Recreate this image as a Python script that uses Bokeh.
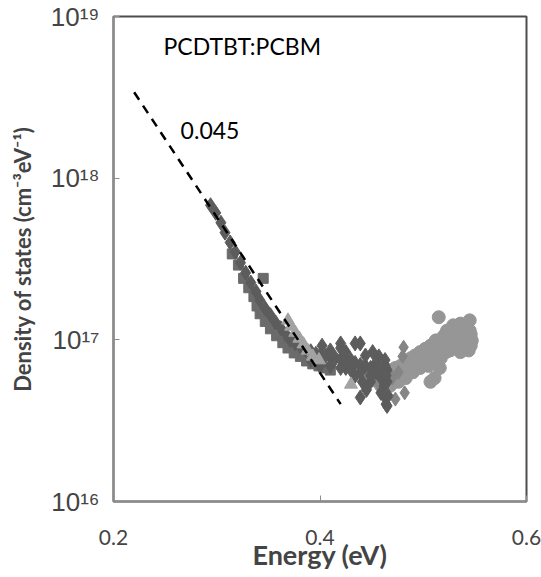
from bokeh.plotting import figure
from bokeh.models import FixedTicker, CustomJSTickFormatter, Range1d
from bokeh.core.properties import value
from bokeh.embed import file_html
from bokeh.resources import INLINE

# ---- data ----
# dark grey diamonds: steep tail + flat region
e1 = [0.294, 0.299, 0.304, 0.308, 0.313, 0.318, 0.323, 0.328, 0.333, 0.338, 0.342, 0.347,
      0.352, 0.357, 0.362, 0.367, 0.371, 0.376, 0.381, 0.386, 0.391, 0.396, 0.400, 0.405,
      0.410, 0.415, 0.420, 0.425, 0.430, 0.434, 0.439, 0.444, 0.449, 0.454, 0.459, 0.462,
      0.402, 0.410, 0.420, 0.434, 0.439, 0.451, 0.457, 0.425, 0.434, 0.441, 0.445, 0.449,
      0.462, 0.464, 0.459, 0.439, 0.463, 0.465, 0.465, 0.466, 0.465,
      0.391, 0.400, 0.410, 0.420, 0.430, 0.439, 0.449, 0.425, 0.444, 0.454, 0.463, 0.459,
      0.464, 0.420]
n1 = [6.8e17, 6.1e17, 5.3e17, 4.6e17, 4.0e17, 3.5e17, 3.0e17, 2.6e17, 2.26e17, 1.99e17, 1.75e17, 1.56e17,
      1.42e17, 1.28e17, 1.18e17, 1.08e17, 1.0e17, 9.5e16, 9.1e16, 8.7e16, 8.5e16, 8.2e16, 8.0e16, 7.9e16,
      7.8e16, 7.7e16, 7.6e16, 7.5e16, 7.5e16, 7.2e16, 7.0e16, 6.9e16, 6.7e16, 6.3e16, 5.8e16, 5.2e16,
      9.2e16, 8.6e16, 8.9e16, 9.5e16, 9.5e16, 8.4e16, 7.9e16, 6.7e16, 6.0e16, 5.5e16, 4.9e16, 5.5e16,
      4.5e16, 4.0e16, 4.7e16, 4.4e16, 7.5e16, 6.5e16, 5.5e16, 4.5e16, 3.9e16,
      7.5e16, 6.9e16, 6.9e16, 6.7e16, 6.5e16, 6.3e16, 6.0e16, 8.4e16, 8.0e16, 7.2e16, 6.9e16, 6.5e16,
      6.0e16, 9.5e16]

# medium-dark grey squares: parallel band in the tail
e2 = [0.315, 0.321, 0.326, 0.331, 0.336, 0.339, 0.342, 0.345, 0.347, 0.352, 0.358, 0.364,
      0.369, 0.375, 0.381, 0.387, 0.393, 0.399, 0.404, 0.410]
n2 = [3.4e17, 2.9e17, 2.4e17, 2.1e17, 1.85e17, 1.62e17, 1.45e17, 2.4e17, 1.3e17, 1.17e17, 1.06e17, 9.6e16,
      8.9e16, 8.3e16, 7.9e16, 7.4e16, 7.1e16, 6.9e16, 6.7e16, 6.5e16]

# light grey triangles
e3 = [0.369, 0.372, 0.376, 0.380, 0.384, 0.388, 0.393, 0.399, 0.430]
n3 = [1.32e17, 1.21e17, 1.11e17, 1.02e17, 9.4e16, 8.6e16, 7.9e16, 7.5e16, 5.3e16]

# grey circles: rising part
e4 = [0.447, 0.454, 0.461, 0.468, 0.473, 0.478, 0.483, 0.488, 0.492, 0.497, 0.502, 0.507,
      0.510, 0.513, 0.517, 0.520, 0.523, 0.526, 0.529, 0.532, 0.536, 0.539, 0.542, 0.545,
      0.547, 0.544, 0.538, 0.531, 0.526, 0.522, 0.517, 0.512, 0.505, 0.497, 0.490, 0.483,
      0.476, 0.468, 0.515, 0.545, 0.511, 0.507, 0.516, 0.536, 0.470, 0.480, 0.490, 0.500,
      0.510, 0.520, 0.528, 0.535, 0.542, 0.546,
      0.454, 0.463, 0.473, 0.483, 0.492, 0.502, 0.512, 0.522, 0.531, 0.541, 0.536, 0.546,
      0.526, 0.517, 0.507, 0.497, 0.488, 0.478, 0.468, 0.459]
n4 = [5.8e16, 6.3e16, 5.8e16, 6.5e16, 6.0e16, 6.9e16, 6.5e16, 7.7e16, 7.2e16, 8.4e16, 7.9e16, 9.2e16,
      8.6e16, 9.9e16, 9.2e16, 1.06e17, 1.14e17, 1.02e17, 1.23e17, 1.11e17, 1.26e17, 1.14e17, 1.24e17, 1.14e17,
      9.9e16, 8.6e16, 9.2e16, 9.2e16, 8.6e16, 8.4e16, 7.7e16, 7.5e16, 6.9e16, 6.7e16, 6.3e16, 5.8e16,
      5.5e16, 5.2e16, 1.38e17, 1.32e17, 5.8e16, 5.5e16, 6.7e16, 8.4e16, 6.2e16, 6.7e16, 7.3e16, 8.0e16,
      9.0e16, 9.8e16, 1.08e17, 1.1e17, 1.05e17, 1.08e17,
      5.6e16, 6.0e16, 6.7e16, 7.2e16, 8.0e16, 8.8e16, 9.9e16, 1.06e17, 1.14e17, 1.14e17, 9.9e16, 9.2e16,
      9.2e16, 8.4e16, 7.7e16, 7.2e16, 6.7e16, 6.0e16, 5.6e16, 5.2e16]

# medium grey diamonds: transition region
e5 = [0.481, 0.480, 0.473, 0.482, 0.444, 0.451, 0.457, 0.463, 0.470, 0.476]
n5 = [9.0e16, 7.9e16, 4.3e16, 4.7e16, 6.3e16, 5.8e16, 5.3e16, 5.5e16, 5.8e16, 6.3e16]

# exponential tail fit (dashed)
e_fit = [0.22, 0.42]
n_fit = [3.4e18, 4.0e16]

x_ticks = [0.2, 0.4, 0.6]
y_ticks = [1e16, 1e17, 1e18, 1e19]

p = figure(width=541, height=577, y_axis_type="log",
           x_range=Range1d(0.2, 0.6), y_range=Range1d(1e16, 1e19),
           output_backend="svg", toolbar_location=None,
           min_border_left=113, min_border_right=15, min_border_top=16, min_border_bottom=76)
p.background_fill_color = "white"
p.border_fill_color = "white"
p.outline_line_color = "#4d4d4d"
p.outline_line_width = 2
p.xgrid.visible = False
p.ygrid.visible = False

p.scatter(e4, n4, marker="circle", size=13, color="#969696")
p.scatter(e5, n5, marker="diamond", size=14, color="#858585")
p.scatter(e2, n2, marker="square", size=10, color="#6b6b6b")
p.scatter(e1, n1, marker="diamond", size=15, color="#5c5c5c")
p.scatter(e3, n3, marker="triangle", size=13, color="#a3a3a3")

p.line(e_fit, n_fit, line_color="black", line_width=2.5, line_dash="9 7")

p.text(x=[0.2484], y=[6.6e18], text=["PCDTBT:PCBM"], text_font=value("Lato"),
       text_font_size="23px", text_baseline="middle", text_color="black")
p.text(x=[0.265], y=[1.97e18], text=["0.045"], text_font=value("Lato"),
       text_font_size="23px", text_baseline="middle", text_color="black")

# x axis
p.xaxis.ticker = FixedTicker(ticks=x_ticks)
p.xaxis.axis_label = "Energy (eV)"
p.xaxis.axis_label_text_font = "Lato"
p.xaxis.axis_label_text_font_style = "bold"
p.xaxis.axis_label_text_font_size = "27px"
p.xaxis.axis_label_standoff = -10
p.xaxis.major_label_text_font = "Lato"
p.xaxis.major_label_text_font_size = "21px"
p.xaxis.major_label_standoff = 28
p.xaxis.axis_line_color = "#8c8c8c"
p.xaxis.axis_line_width = 2
p.xaxis.major_tick_line_color = "#8c8c8c"
p.xaxis.major_tick_in = 6
p.xaxis.major_tick_out = 0
p.xaxis.minor_tick_line_color = None

# y axis
p.yaxis.ticker = FixedTicker(ticks=y_ticks)
p.yaxis.formatter = CustomJSTickFormatter(code="""
const sup = {"0":"\u2070","1":"\u00b9","2":"\u00b2","3":"\u00b3","4":"\u2074",
             "5":"\u2075","6":"\u2076","7":"\u2077","8":"\u2078","9":"\u2079","-":"\u207b"};
const e = Math.round(Math.log10(tick));
return "10" + String(e).split("").map(c => sup[c]).join("");
""")
p.yaxis.axis_label = "Density of states (cm\u207b\u00b3eV\u207b\u00b9)"
p.yaxis.axis_label_text_font = "Lato"
p.yaxis.axis_label_text_font_style = "bold"
p.yaxis.axis_label_text_font_size = "22px"
p.yaxis.axis_label_standoff = 12
p.yaxis.major_label_text_font = "Liberation Sans"
p.yaxis.major_label_text_font_size = "26px"
p.yaxis.major_label_standoff = 14
p.yaxis.axis_line_color = "#8c8c8c"
p.yaxis.axis_line_width = 2
p.yaxis.major_tick_line_color = "#8c8c8c"
p.yaxis.major_tick_in = 6
p.yaxis.major_tick_out = 0
p.yaxis.minor_tick_line_color = None

open("out.html", "w").write(file_html(p, INLINE))
